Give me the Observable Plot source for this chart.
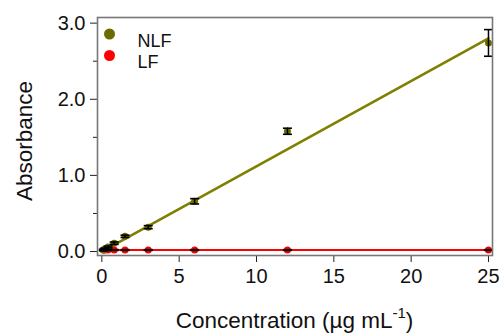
<!DOCTYPE html>
<html>
<head>
<meta charset="utf-8">
<script src="https://cdn.jsdelivr.net/npm/d3@7"></script>
<script src="https://cdn.jsdelivr.net/npm/@observablehq/plot@0.6"></script>
<style>
  html, body { margin: 0; padding: 0; background: #fff; }
  #chart { width: 500px; height: 333px; }
  svg { font-family: "Liberation Sans", Arial, sans-serif; }
</style>
</head>
<body>
<div id="chart"></div>
<script>
// ---- data ----
const concentration = [0.1, 0.2, 0.4, 0.8, 1.5, 3, 6, 12, 25];
const nlfAbs = [0.02, 0.035, 0.06, 0.11, 0.20, 0.32, 0.66, 1.58, 2.74];
const nlfErr = [0.01, 0.01, 0.012, 0.015, 0.015, 0.02, 0.035, 0.04, 0.175];
const lfAbs  = [0.02, 0.02, 0.02, 0.02, 0.02, 0.02, 0.02, 0.02, 0.02];
const lfErr  = [0.005, 0.005, 0.005, 0.005, 0.005, 0.005, 0.005, 0.005, 0.005];
const fitX   = [0, 25];
const nlfFit = [0.0, 2.80];
const lfFit  = [0.02, 0.02];
const xTicks = [0, 5, 10, 15, 20, 25];
const yTicks = [0, 1, 2, 3];
const yMinorTicks = [0.5, 1.5, 2.5];
const seriesNames = ["NLF", "LF"];

const colNLF = "#6b6b00", colNLFLine = "#7f7f00", colLF = "#ff0000";

const nlf = concentration.map((c, i) => ({x: c, y: nlfAbs[i], e: nlfErr[i]}));
const lf  = concentration.map((c, i) => ({x: c, y: lfAbs[i], e: lfErr[i]}));
const nlfLine = fitX.map((x, i) => ({x, y: nlfFit[i]}));
const lfLine  = fitX.map((x, i) => ({x, y: lfFit[i]}));

const cap = { draw(ctx) { ctx.moveTo(-4.5, 0); ctx.lineTo(4.5, 0); } };

function errMarks(data) {
  return [
    Plot.ruleX(data, {x: "x", y1: d => d.y - d.e, y2: d => d.y + d.e, stroke: "black", strokeWidth: 1.5}),
    Plot.dot(data, {x: "x", y: d => d.y + d.e, symbol: cap, r: 4, stroke: "black", strokeWidth: 1.6, fill: "none"}),
    Plot.dot(data, {x: "x", y: d => d.y - d.e, symbol: cap, r: 4, stroke: "black", strokeWidth: 1.6, fill: "none"})
  ];
}

const chart = Plot.plot({
  width: 500,
  height: 333,
  marginLeft: 97,
  marginRight: 8,
  marginTop: 17,
  marginBottom: 78,
  style: {fontFamily: '"Liberation Sans", Arial, sans-serif', background: "white"},
  x: {domain: [-0.28, 25.26]},
  y: {domain: [-0.052, 3.074]},
  marks: [
    Plot.axisX({ticks: xTicks, tickSize: 7, tickPadding: 6, fontSize: 20, tickFormat: d => String(d), label: null, stroke: "#222", color: "#111"}),
    Plot.axisY({ticks: yTicks, tickSize: 7, tickPadding: 5, fontSize: 20, tickFormat: d3.format(".1f"), label: null, stroke: "#222", color: "#111"}),
    Plot.axisY({ticks: yMinorTicks, tickSize: 4, text: null, label: null, stroke: "#222"}),
    Plot.line(lfLine, {x: "x", y: "y", stroke: colLF, strokeWidth: 2}),
    Plot.line(nlfLine, {x: "x", y: "y", stroke: colNLFLine, strokeWidth: 2.6}),
    Plot.dot(lf, {x: "x", y: "y", r: 3.5, fill: colLF}),
    Plot.dot(nlf, {x: "x", y: "y", r: 3.5, fill: colNLF}),
    ...errMarks(lf),
    ...errMarks(nlf),
    Plot.frame({stroke: "#777", strokeWidth: 1.6}),
    // legend
    Plot.dot([seriesNames[0]], {frameAnchor: "top-left", dx: 12, dy: 16.5, r: 5.5, fill: colNLF}),
    Plot.dot([seriesNames[1]], {frameAnchor: "top-left", dx: 12, dy: 38, r: 5.5, fill: colLF}),
    Plot.text([seriesNames[0]], {text: d => d, frameAnchor: "top-left", dx: 40, dy: 16.5, fontSize: 18, textAnchor: "start", fill: "#111"}),
    Plot.text([seriesNames[1]], {text: d => d, frameAnchor: "top-left", dx: 40, dy: 38, fontSize: 18, textAnchor: "start", fill: "#111"})
  ]
});

const svg = d3.select(chart);
// x-axis title with superscript
const xt = svg.append("text")
  .attr("x", (97 + 492) / 2).attr("y", 328)
  .attr("text-anchor", "middle")
  .attr("font-size", 22.5).attr("fill", "#111");
xt.append("tspan").text("Concentration (µg mL");
xt.append("tspan").attr("font-size", 15).attr("dy", -10).text("-1");
xt.append("tspan").attr("dy", 10).text(")");
// y-axis title
svg.append("text")
  .attr("transform", "translate(32,141) rotate(-90)")
  .attr("text-anchor", "middle")
  .attr("font-size", 22.5).attr("fill", "#111")
  .text("Absorbance");

document.getElementById("chart").appendChild(chart);
</script>
</body>
</html>
